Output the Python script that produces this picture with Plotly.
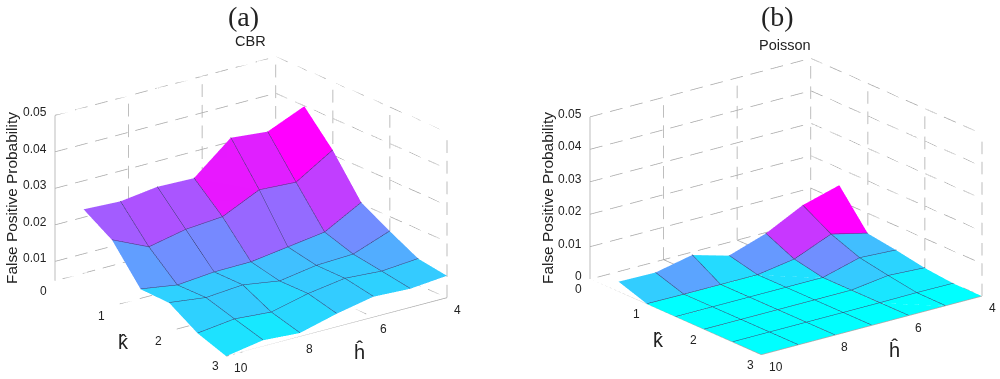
import math
import plotly.graph_objects as go

h_vals = [10, 9, 8, 7, 6, 5, 4]
k_vals = [0.5, 1, 1.5, 2, 2.5, 3]

z_cbr = [
    [.0277, .0272, .0285, .0282, .0366, .0356, .0399],
    [.0227, .0181, .0202, .0210, .0257, .0251, .0313],
    [.0127, .0111, .0120, .0121, .0135, .0149, .0204],
    [.0124, .0111, .0119, .0103, .0119, .0123, .0160],
    [.0075, .0087, .0079, .0103, .0118, .0111, .0119],
    [.0047, .0064, .0057, .0083, .0103, .0098, .0107],
]
z_poisson = [
    [.0031, .0029, .0053, .0021, .0059, .0116, .0148],
    [.0001, .0000, .0000, .0000, .0018, .0065, .0038],
    [.0000, .0000, .0000, .0000, .0000, .0031, .0025],
    [.0000, .0000, .0000, .0000, .0000, .0015, .0009],
    [.0000, .0000, .0000, .0000, .0000, .0001, .0000],
    [.0000, .0000, .0000, .0000, .0000, .0000, .0000],
]
h_ticks = [4, 6, 8, 10]
k_ticks = [0, 1, 2, 3]
z_ticks = [0.01, 0.02, 0.03, 0.04, 0.05]
z_floor_a = 0.0047
z_floor_b = 0.0

GRID = "#a8a8a8"
TEXT = "#222222"
SANS = "Liberation Sans, Arial, sans-serif"
BOX = 1.62
CAM_R = 2.2
ELEV = math.radians(20)
AZ = math.radians(52.2)
EYE = dict(x=CAM_R * math.cos(ELEV) * math.cos(AZ),
           y=CAM_R * math.cos(ELEV) * math.sin(AZ),
           z=CAM_R * math.sin(ELEV))
LIFT = 0.00012
DASH_PX, GAP_PX = 13.0, 8.0


def segs(pairs):
    xs, ys, zs = [], [], []
    for a, b in pairs:
        xs += [a[0], b[0], None]
        ys += [a[1], b[1], None]
        zs += [a[2], b[2], None]
    return xs, ys, zs


def dashed(pairs, floor):
    """Cut each grid line into dashes of about DASH_PX on, GAP_PX off on screen."""
    out = []
    zpx = 166.0 / (max(z_ticks) - floor)
    for a, b in pairs:
        dh, dk, dz = b[0] - a[0], b[1] - a[1], b[2] - a[2]
        sx = -37.0 * dh + 56.7 * dk
        sy = 9.8 * dh + 25.0 * dk - zpx * dz
        length = math.hypot(sx, sy)
        n = max(1, round((length + GAP_PX) / (DASH_PX + GAP_PX)))
        on = DASH_PX / (DASH_PX + GAP_PX)
        for i in range(n):
            t0, t1 = i / n, (i + on) / n
            out.append(((a[0] + dh * t0, a[1] + dk * t0, a[2] + dz * t0),
                        (a[0] + dh * t1, a[1] + dk * t1, a[2] + dz * t1)))
    return out


def traces(z, floor, scene):
    hmin, hmax, kmin, kmax = min(h_ticks), max(h_ticks), min(k_ticks), max(k_ticks)
    top = max(z_ticks)
    out = []
    # cells
    vx, vy, vz, ii, jj, kk, inten = [], [], [], [], [], [], []
    nr, nc = len(k_vals), len(h_vals)
    for r in range(nr):
        for c in range(nc):
            vx.append(h_vals[c]); vy.append(k_vals[r]); vz.append(z[r][c])
    for r in range(nr - 1):
        for c in range(nc - 1):
            a = r * nc + c
            b = a + 1
            d = (r + 1) * nc + c
            e = d + 1
            ii += [a, a]; jj += [b, e]; kk += [e, d]
            inten += [z[r][c + 1], z[r][c + 1]]
    out.append(go.Mesh3d(x=vx, y=vy, z=vz, i=ii, j=jj, k=kk, intensity=inten,
                         intensitymode="cell", cmin=min(map(min, z)), cmax=max(map(max, z)),
                         colorscale=[[0, "#00ffff"], [1, "#ff00ff"]], showscale=False,
                         flatshading=True, hoverinfo="skip", scene=scene,
                         lighting=dict(ambient=1, diffuse=0, specular=0, fresnel=0, roughness=1)))
    # cell edges
    ep = []
    for r in range(nr):
        for c in range(nc):
            if c < nc - 1 and 0 < r < nr - 1:
                ep.append(((h_vals[c], k_vals[r], z[r][c] + LIFT), (h_vals[c + 1], k_vals[r], z[r][c + 1] + LIFT)))
            if r < nr - 1 and 0 < c < nc - 1:
                ep.append(((h_vals[c], k_vals[r], z[r][c] + LIFT), (h_vals[c], k_vals[r + 1], z[r + 1][c] + LIFT)))
    x, y, zz = segs(ep)
    out.append(go.Scatter3d(x=x, y=y, z=zz, mode="lines", hoverinfo="skip", scene=scene,
                            line=dict(color="#3c4070", width=1), showlegend=False))
    # dashed back-wall and floor grid
    gp = []
    for t in z_ticks:
        gp.append(((hmax, kmin, t), (hmin, kmin, t)))
        gp.append(((hmin, kmin, t), (hmin, kmax, t)))
    for h in h_ticks[:-1]:
        gp.append(((h, kmin, floor), (h, kmin, top)))
        gp.append(((h, kmin, floor), (h, kmax, floor)))
    for k in k_ticks[1:]:
        gp.append(((hmin, k, floor), (hmin, k, top)))
    for k in k_ticks[:-1]:
        gp.append(((hmin, k, floor), (hmax, k, floor)))
    x, y, zz = segs(dashed(gp, floor))
    out.append(go.Scatter3d(x=x, y=y, z=zz, mode="lines", hoverinfo="skip", scene=scene,
                            line=dict(color=GRID, width=1.5), showlegend=False))
    # solid front axes
    ap = [((hmax, kmin, floor), (hmax, kmin, top)),
          ((hmax, kmin, floor), (hmax, kmax, floor)),
          ((hmax, kmax, floor), (hmin, kmax, floor))]
    x, y, zz = segs(ap)
    out.append(go.Scatter3d(x=x, y=y, z=zz, mode="lines", hoverinfo="skip", scene=scene,
                            line=dict(color=GRID, width=1.5), showlegend=False))
    return out


def note(x, y, z, text, xs, ys, size=12, anchor="center"):
    return dict(x=x, y=y, z=z, text=text, showarrow=False, xshift=xs, yshift=ys, xanchor=anchor,
                yanchor="middle", font=dict(family=SANS, size=size, color=TEXT))


def scene_layout(z_floor, domain_x, z_labels, z_ratio):
    hmin, hmax, kmin, kmax = min(h_ticks), max(h_ticks), min(k_ticks), max(k_ticks)
    hidden = dict(visible=False, showspikes=False)
    ann = []
    for t in z_labels:
        ann.append(note(hmax, kmin, t, ("%.2f" % t) if t else "0", -6, 3, anchor="right"))
    for k in k_ticks:
        ann.append(note(hmax, k, z_floor, str(k), -11, -10))
    for h in h_ticks:
        ann.append(note(h, kmax, z_floor, str(h), 15 if h == 10 else 10, -12))
    ann.append(note(hmax, 1.55, z_floor, "k\u0302", -20, -22, size=20))
    ann.append(note(6.4, kmax, z_floor, "h\u0302", 1, -30, size=20))
    return dict(domain=dict(x=domain_x, y=[0, 0.9103]),
                xaxis=dict(range=[hmin, hmax], **hidden),
                yaxis=dict(range=[kmin, kmax], **hidden),
                zaxis=dict(range=[z_floor, max(z_ticks)], **hidden),
                aspectmode="manual", aspectratio=dict(x=BOX, y=BOX, z=BOX * z_ratio),
                camera=dict(eye=EYE, up=dict(x=0, y=0, z=1), center=dict(x=0, y=0, z=0),
                            projection=dict(type="orthographic")),
                bgcolor="white", annotations=ann, dragmode=False)


fig = go.Figure()
for t in traces(z_cbr, z_floor_a, "scene"):
    fig.add_trace(t)
for t in traces(z_poisson, z_floor_b, "scene2"):
    fig.add_trace(t)


def paper(x, y, text, family=SANS, size=14.5, angle=0):
    return dict(x=x / 1000, y=1 - y / 379, xref="paper", yref="paper", text=text, showarrow=False,
                textangle=angle, xanchor="center", yanchor="middle",
                font=dict(family=family, size=size, color="#222222"))


fig.update_layout(
    width=1000, height=379, margin=dict(l=0, r=0, t=0, b=0), paper_bgcolor="white",
    showlegend=False, hovermode=False,
    scene=scene_layout(z_floor_a, [0, 0.502], z_ticks, 0.63),
    scene2=scene_layout(z_floor_b, [0.572, 1], [0] + z_ticks, 0.618),
    annotations=[
        paper(243, 17, "(a)", "Liberation Serif, Times New Roman, serif", 28),
        paper(250, 41, "CBR"),
        paper(777, 17, "(b)", "Liberation Serif, Times New Roman, serif", 28),
        paper(785, 45, "Poisson"),
        paper(11, 198, "False Positive Probability", angle=-90, size=15.4),
        paper(547, 198, "False Positive Probability", angle=-90, size=15.4),
    ],
)
fig.write_html("out.html", config=dict(displayModeBar=False),
               post_script="document.body.style.margin='0';document.body.style.overflow='hidden';")
